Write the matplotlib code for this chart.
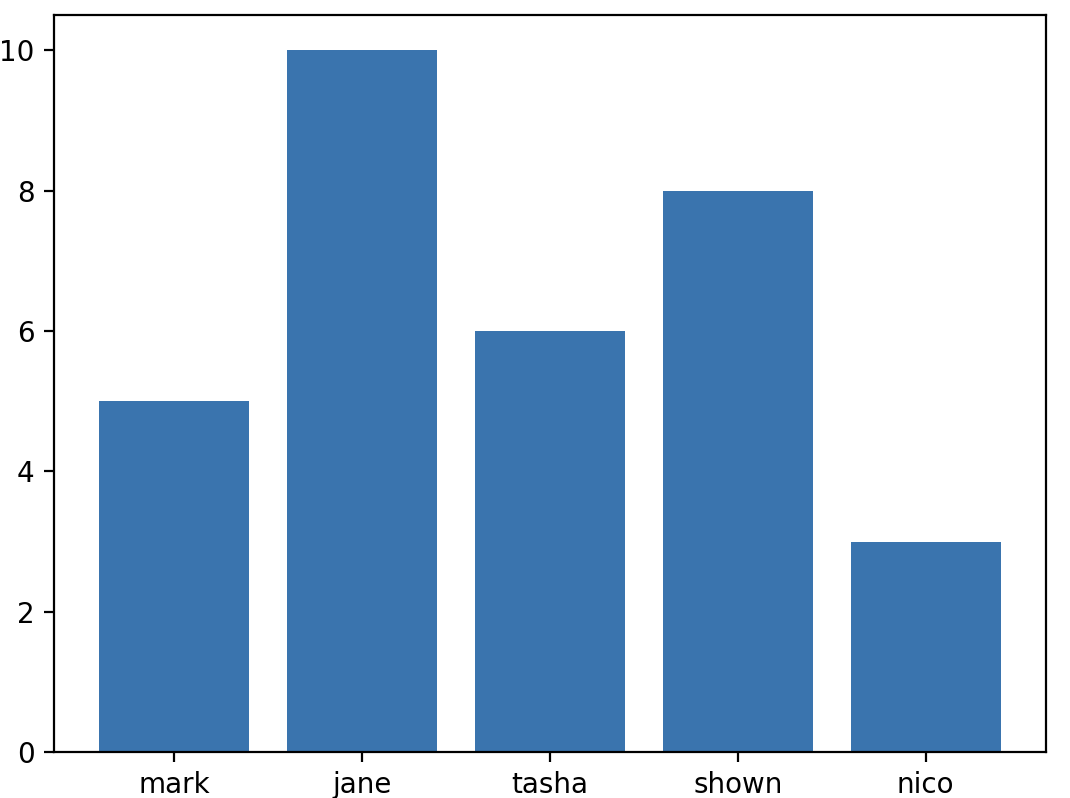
import matplotlib.pyplot as plt

names = ['mark', 'jane', 'tasha', 'shown', 'nico']
values = [5, 10, 6, 8, 3]

fig = plt.figure(figsize=(5.35, 3.99), dpi=200)
ax = fig.add_axes([0.0505, 0.0576, 0.927, 0.9234])

ax.bar(names, values, color='#3a74ae')
ax.set_ylim(0, 10.5)
ax.set_yticks([0, 2, 4, 6, 8, 10])

fig.savefig('out.png', dpi=200)
